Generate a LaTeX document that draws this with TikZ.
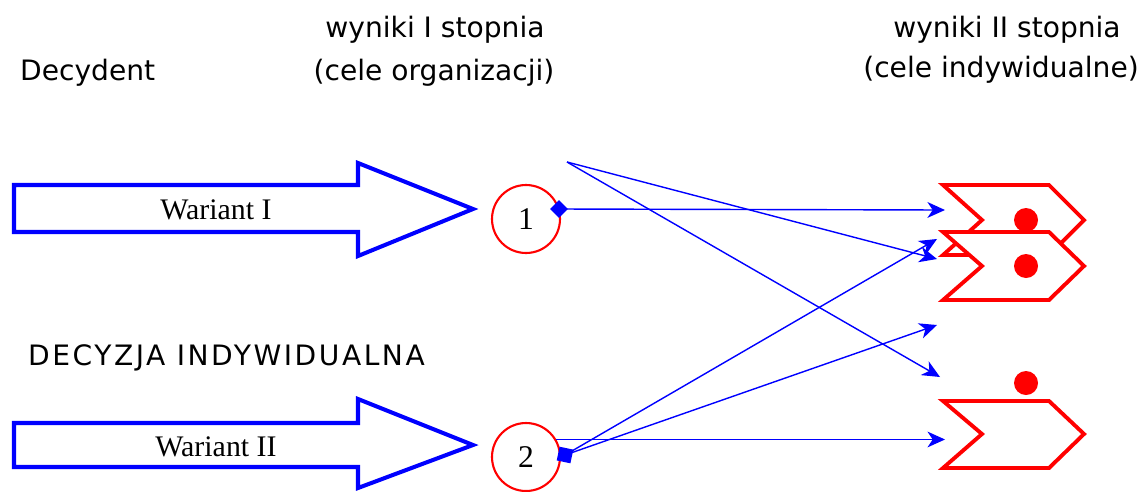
\documentclass[tikz,border=0pt]{standalone}
\usepackage{fontspec}
\setmainfont{Liberation Serif}
\newfontfamily\handfont{DejaVu Sans}
\usetikzlibrary{arrows.meta,shapes.geometric}

\begin{document}
\begin{tikzpicture}[x=0.02cm,y=-0.02cm,
  blockarrow/.style={draw=blue, line width=2.3pt, fill=white, line join=miter},
  outcome/.style={draw=red, line width=2.2pt, fill=white, line join=miter},
  outdot/.style={circle, fill=red, inner sep=0pt, minimum size=0.48cm},
  result/.style={circle, draw=red, line width=1.2pt, minimum size=1.36cm,
                 inner sep=0pt, font=\fontsize{18}{18}\selectfont},
  link/.style={draw=blue, line width=0.8pt, -{Stealth[length=10pt,width=9pt,inset=3pt]}},
  title/.style={font=\handfont\fontsize{16}{19}\selectfont, anchor=base},
  varlabel/.style={font=\fontsize{17}{20}\selectfont}
]
\useasboundingbox (0,0) rectangle (1145,491);

% headings
\node[title, anchor=base west] (decydent) at (14,80) {Decydent};
\node[title] (lvl1a) at (435,37) {wyniki I stopnia};
\node[title] (lvl1b) at (434,80) {(cele organizacji)};
\node[title] (lvl2a) at (1007,37) {wyniki II stopnia};
\node[title] (lvl2b) at (1001,77) {(cele indywidualne)};
\node[title, anchor=base west] (decyzja) at (22,365)
  {\addfontfeature{LetterSpace=9}DECYZJA INDYWIDUALNA};

% block arrows for the two variants
\draw[blockarrow] (14,185) -- (358,185) -- (358,163) -- (473,209)
  -- (358,256) -- (358,232) -- (14,232) -- cycle;
\node[varlabel] (war1) at (216,210) {Wariant I};
\draw[blockarrow] (14,423) -- (358,423) -- (358,399) -- (473,445)
  -- (358,488) -- (358,467) -- (14,467) -- cycle;
\node[varlabel] (war2) at (216,447) {Wariant II};

% first-level results
\node[result] (c1) at (526,219) {1};
\node[result] (c2) at (526,457) {2};

% second-level outcomes (chevrons with dots)
\draw[outcome] (943,185) -- (1049,185) -- (1084,220) -- (1049,255)
  -- (943,255) -- (982,220) -- cycle;
\node[outdot] (dot1) at (1026,220) {};
\draw[outcome] (943,232) -- (1049,232) -- (1084,266) -- (1049,300)
  -- (943,300) -- (982,266) -- cycle;
\node[outdot] (dot2) at (1026,266) {};
\draw[outcome] (943,401) -- (1049,401) -- (1084,434) -- (1049,468)
  -- (943,468) -- (982,434) -- cycle;
\node[outdot] (dot3) at (1026,383) {};

% connector end points
\coordinate (t) at (567,162);
\coordinate (a1) at (945,210);
\coordinate (a2) at (937,239);
\coordinate (a3) at (937,259);
\coordinate (a4) at (937,325);
\coordinate (a5) at (940,377);
\coordinate (a6) at (945,438);

% connectors
\draw[link] (559,209) -- (a1);
\draw[link] (t) -- (a3);
\draw[link] (t) -- (a5);
\draw[link] (565,455) -- (a2);
\draw[link] (565,455) -- (a4);
\draw[link] (c2.30) -- (c2.30 -| a6);

% markers on the circles
\node[diamond, fill=blue, inner sep=0pt, minimum size=0.36cm] (d1) at (559,209) {};
\node[rectangle, fill=blue, inner sep=0pt, minimum size=0.28cm, rotate=-12] (s2) at (565,455) {};
\end{tikzpicture}
\end{document}
